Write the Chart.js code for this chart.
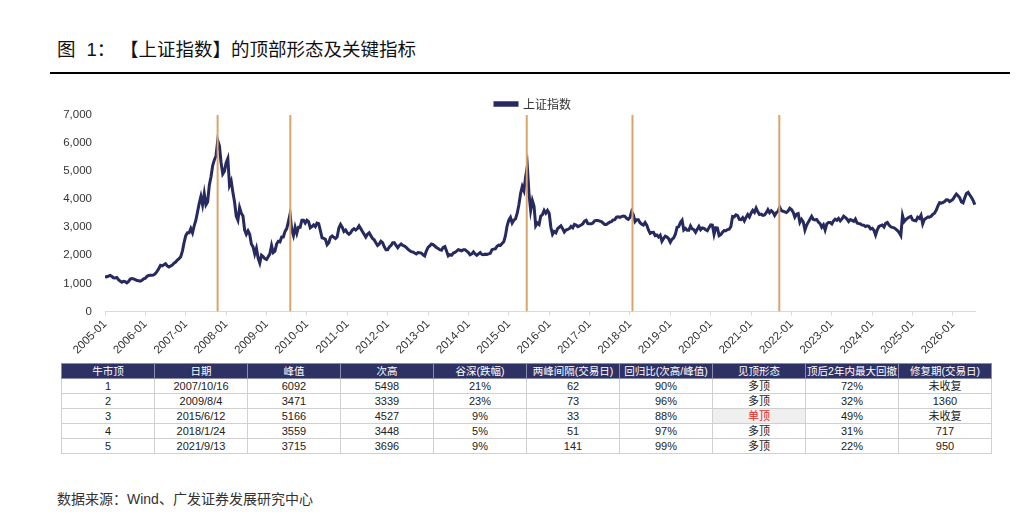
<!DOCTYPE html>
<html>
<head>
<meta charset="utf-8">
<script src="https://cdn.jsdelivr.net/npm/chart.js@4.4.1/dist/chart.umd.min.js"></script>
<style>
  html,body{margin:0;padding:0;background:#fff;}
  body{width:1024px;height:529px;position:relative;overflow:hidden;font-family:'Liberation Sans','Noto Sans CJK SC',sans-serif;}
  #title{position:absolute;left:57px;top:35px;font-size:18.5px;color:#111;font-family:'Noto Sans CJK SC',sans-serif;white-space:nowrap;}
  #title .n{font-family:'Liberation Sans',sans-serif;margin-left:11px;}
  #title .b{margin-left:14px;}
  #rule{position:absolute;left:50px;top:72px;width:960px;height:2px;background:#000;}
  #wrap{position:absolute;left:50px;top:84px;width:926px;height:275px;}
  #tbl{position:absolute;left:61px;top:363px;width:930px;border-collapse:collapse;table-layout:fixed;font-size:11px;color:#222;}
  #tbl td,#tbl th{height:14px;line-height:14px;padding:0;text-align:center;border:1px solid #d0d0d0;white-space:nowrap;overflow:hidden;}
  #tbl th{background:#2e3164;color:#fff;font-weight:normal;font-size:10.5px;border-color:#8a8cab;}
  #tbl td.red{color:#e02a25;background:#efefef;}
  #foot{position:absolute;left:57px;top:488px;font-size:14px;color:#333;font-family:'Noto Sans CJK SC',sans-serif;white-space:nowrap;}
  #foot span{font-family:'Liberation Sans',sans-serif;}
</style>
</head>
<body>
<div id="title">图<span class="n">1</span>：<span class="b">【上证指数】的顶部形态及关键指标</span></div>
<div id="rule"></div>
<div id="wrap"><canvas id="c"></canvas></div>
<table id="tbl"></table>
<div id="foot">数据来源：<span>Wind</span>、广发证券发展研究中心</div>
<script>
// ---- Data: Shanghai Composite, semi-monthly readings (1st & 16th of each month) ----
const v2005 = [1250,1230,1260,1280,1250,1200,1190,1210,1130,1080,1040,1070,1060,1020,1070,1150,1170,1160,1130,1100,1090,1080,1110,1160];
const v2006 = [1180,1250,1280,1290,1290,1300,1350,1430,1530,1640,1620,1660,1700,1620,1580,1620,1650,1720,1760,1830,1880,1950,2150,2450];
const v2007 = [2700,2800,2800,2950,2800,3050,3250,3550,3850,4100,3800,4200,3800,3900,4500,4800,5200,5400,5550,6092,5900,5300,4900,5000];
const v2008 = [5300,5450,4500,4650,4250,3900,3400,3250,3700,3500,3400,2900,2750,2870,2750,2400,2300,2050,2250,1900,1720,2000,1950,1880];
const v2009 = [1850,1950,2050,2350,2100,2150,2400,2500,2480,2650,2650,2850,2950,3200,3471,2900,2700,3000,2780,3000,3000,3250,3250,3150];
const v2010 = [3250,3200,2980,3020,3080,3020,3150,3130,2880,2620,2600,2570,2380,2450,2640,2690,2640,2600,2660,2970,3100,3000,2850,2900];
const v2011 = [2800,2750,2800,2900,2950,2900,2950,3050,2950,2850,2750,2650,2750,2800,2700,2600,2550,2450,2350,2400,2500,2450,2300,2200];
const v2012 = [2200,2300,2350,2450,2450,2350,2270,2350,2400,2350,2330,2280,2220,2170,2130,2120,2080,2050,2100,2090,2080,2020,1980,2150];
const v2013 = [2280,2330,2400,2380,2330,2280,2240,2200,2180,2280,2310,2150,1980,2020,2000,2080,2100,2150,2200,2180,2160,2200,2200,2150];
const v2014 = [2100,2020,2050,2120,2050,2000,2050,2100,2030,2020,2040,2030,2050,2070,2200,2220,2230,2320,2360,2350,2420,2480,2700,3050];
const v2015 = [3250,3350,3150,3250,3300,3500,3800,4200,4450,4300,4800,5166,4200,3600,3950,3750,3050,3150,3100,3400,3450,3600,3500,3600];
const v2016 = [3500,3000,2750,2850,2800,2950,3000,3050,2950,2830,2900,2920,2950,3030,2980,3100,3080,3020,3050,3080,3120,3220,3250,3130];
const v2017 = [3120,3120,3150,3230,3240,3240,3220,3200,3150,3100,3100,3140,3180,3200,3260,3270,3360,3370,3350,3380,3400,3390,3320,3280];
const v2018 = [3350,3559,3450,3200,3270,3270,3160,3110,3080,3170,3075,2900,2780,2815,2820,2700,2720,2650,2716,2500,2600,2680,2650,2590];
const v2019 = [2465,2570,2620,2750,2995,3020,3170,3250,2900,2955,2890,2890,3045,2940,2910,2820,2925,3030,2910,2975,2960,2910,2875,2985];
const v2020 = [3085,3075,2746,2980,2970,2700,2735,2820,2880,2875,2915,2930,3025,3380,3370,3440,3410,3280,3270,3340,3225,3350,3450,3365];
const v2021 = [3500,3600,3530,3680,3550,3450,3466,3426,3440,3518,3625,3518,3590,3540,3420,3520,3567,3715,3592,3570,3545,3521,3576,3675];
const v2022 = [3630,3540,3360,3465,3490,3170,3280,3195,2900,3073,3182,3285,3388,3278,3259,3277,3184,3126,3000,3084,2900,3120,3165,3167];
const v2023 = [3116,3228,3285,3249,3312,3226,3296,3394,3350,3290,3205,3273,3243,3210,3290,3150,3133,3118,3075,3073,3023,3050,3031,2942];
const v2024 = [2962,2893,2720,2910,3027,3054,3077,3007,3140,3171,3078,3015,2994,2976,2932,2879,2811,2704,3420,3202,3272,3324,3363,3386];
const v2025 = [3262,3236,3229,3355,3316,3430,3120,3276,3316,3367,3361,3388,3457,3503,3600,3750,3875,3861,3880,3916,3976,3972,3914,3950];
const v2026 = [4000,4100,4180,4120,4050,3900,3870,4050,4200,4240,4150,4060,3950,3800];

const seriesByYear = {2005:v2005,2006:v2006,2007:v2007,2008:v2008,2009:v2009,2010:v2010,2011:v2011,2012:v2012,
  2013:v2013,2014:v2014,2015:v2015,2016:v2016,2017:v2017,2018:v2018,2019:v2019,2020:v2020,2021:v2021,
  2022:v2022,2023:v2023,2024:v2024,2025:v2025,2026:v2026};

const seriesName = '上证指数';
const xStartYear = 2005;
const xEndYear = 2026.57;
const yTicksMax = 7000;
const yTickStep = 1000;

// ---- Table data ----
const tblHeaders = ['牛市顶','日期','峰值','次高','谷深(跌幅)','两峰间隔(交易日)','回归比(次高/峰值)','见顶形态','顶后2年内最大回撤','修复期(交易日)'];
const colNo = ['1','2','3','4','5'];
const colDate = ['2007/10/16','2009/8/4','2015/6/12','2018/1/24','2021/9/13'];
const colPeak = ['6092','3471','5166','3559','3715'];
const colSecond = ['5498','3339','4527','3448','3696'];
const colTrough = ['21%','23%','9%','5%','9%'];
const colGap = ['62','73','33','51','141'];
const colRatio = ['90%','96%','88%','97%','99%'];
const colShape = ['多顶','多顶','单顶','多顶','多顶'];
const colDD = ['72%','32%','49%','31%','22%'];
const colRepair = ['未收复','1360','未收复','717','950'];
const highlightShape = '单顶';

// ---- Build table ----
(function(){
  const t = document.getElementById('tbl');
  let h = '<colgroup>' + tblHeaders.map(()=>'<col style="width:93px">').join('') + '</colgroup>';
  h += '<tr>' + tblHeaders.map(x=>'<th>'+x+'</th>').join('') + '</tr>';
  const cols = [colNo,colDate,colPeak,colSecond,colTrough,colGap,colRatio,colShape,colDD,colRepair];
  for (let r=0;r<colNo.length;r++){
    h += '<tr>' + cols.map((c,ci)=>{
      const v = c[r];
      const cls = (ci===7 && v===highlightShape) ? ' class="red"' : '';
      return '<td'+cls+'>'+v+'</td>';
    }).join('') + '</tr>';
  }
  t.innerHTML = h;
})();

// ---- Chart ----
function decYear(s){
  const p = s.split('/').map(Number);
  const y=p[0], m=p[1], d=p[2];
  const ms = Date.UTC(y,m-1,d) - Date.UTC(y,0,1);
  return y + ms/(365*86400000);
}
const points = [];
Object.keys(seriesByYear).forEach(yr=>{
  seriesByYear[yr].forEach((v,i)=>points.push({x:Number(yr)+i/24, y:v}));
});
const peakLines = colDate.map(d=>{
  const t = decYear(d);
  return {label:'_peak', data:[{x:t,y:0},{x:t,y:yTicksMax}], borderColor:'#d9a56c', borderWidth:2,
          pointRadius:0, order:-1, fill:false};
});

Chart.defaults.font.family = "'Liberation Sans','Noto Sans CJK SC',sans-serif";
Chart.defaults.color = '#333';

// tighten the legend box and nudge it to sit above the plot centre
const legendTweak = {
  id:'legendTweak',
  beforeInit(chart){
    const lg = chart.legend;
    if (!lg) return;
    const origFit = lg.fit;
    lg.fit = function(){ origFit.call(this); this.height -= 5; };
  },
  afterLayout(chart){
    const lg = chart.legend;
    if (lg){ lg.left += 20; lg.right += 20; }
  }
};

new Chart(document.getElementById('c'), {
  type:'line',
  data:{datasets:[
    {label:seriesName, data:points, borderColor:'#262a5e', backgroundColor:'#262a5e', borderWidth:3,
     pointRadius:0, tension:0, order:0, fill:false},
    ...peakLines
  ]},
  plugins:[legendTweak],
  options:{
    responsive:true, maintainAspectRatio:false, animation:false,
    layout:{padding:{left:0,right:0,top:11,bottom:0}},
    plugins:{
      legend:{position:'top', align:'center',
        labels:{filter:(it)=>it.datasetIndex===0, boxWidth:22, boxHeight:2.5, padding:3,
                font:{size:12, family:"'Noto Sans CJK SC',sans-serif"}, color:'#333'}},
      tooltip:{enabled:false}
    },
    scales:{
      x:{type:'linear', min:xStartYear, max:xEndYear,
         grid:{display:true, drawOnChartArea:false, drawTicks:true, tickLength:4, color:'#d9d9d9'},
         border:{display:true, color:'#d9d9d9'},
         ticks:{stepSize:1, autoSkip:false, includeBounds:false, maxRotation:45, minRotation:45, padding:2,
                font:{size:11.5}, color:'#333', callback:(v)=> Number.isInteger(v) ? v+'-01' : ''}},
      y:{min:0, max:yTicksMax,
         grid:{display:false, drawTicks:false},
         border:{display:false},
         afterFit:(s)=>{s.width=55;},
         ticks:{stepSize:yTickStep, padding:13, font:{size:11.5}, color:'#333',
                callback:(v)=>v.toLocaleString('en-US')}}
    }
  }
});
</script>
</body>
</html>
